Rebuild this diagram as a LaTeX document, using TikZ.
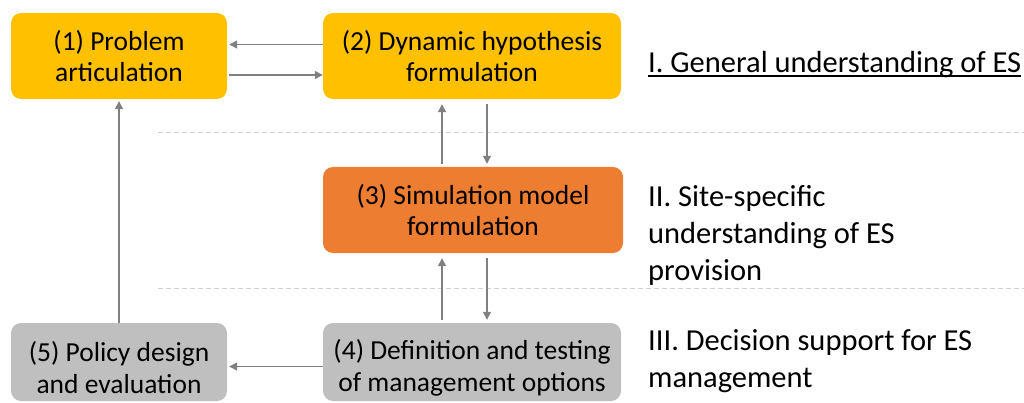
\documentclass[tikz,border=0pt]{standalone}
\usepackage{fontspec}
\setmainfont{Carlito}
\usetikzlibrary{arrows.meta}
\definecolor{boxyellow}{HTML}{FFC000}
\definecolor{boxorange}{HTML}{ED7D31}
\definecolor{boxgray}{HTML}{BFBFBF}
\definecolor{arrowgray}{HTML}{808080}
\definecolor{dashgray}{HTML}{D0D0D0}
\begin{document}
\begin{tikzpicture}[x=1pt,y=-1pt,
  box/.style={rounded corners=10pt, align=center, inner sep=0pt,
    font=\fontsize{27.5}{31}\selectfont, text=black},
  topbox/.style={box, fill=boxyellow, minimum height=86pt},
  midbox/.style={box, fill=boxorange, minimum height=86pt},
  lowbox/.style={box, fill=boxgray, minimum height=78pt, font=\fontsize{27.5}{32}\selectfont},
  arr/.style={draw=arrowgray, line width=1.3pt, -{Triangle[length=8pt,width=8pt]}},
  sep/.style={draw=dashgray, line width=1pt, dash pattern=on 5pt off 3pt},
  lbl/.style={font=\fontsize{30.5}{37}\selectfont, align=left, inner sep=0pt, text=black}
]
\useasboundingbox (0,0) rectangle (1024,403);

% level separators
\coordinate (s1a) at (158,133);
\coordinate (s1b) at (1024,133);
\coordinate (s2a) at (158,288);
\coordinate (s2b) at (1024,288);
\draw[sep] (s1a) -- (s1b);
\draw[sep] (s2a) -- (s2b);

% boxes
\node[topbox, minimum width=216pt] (b1) at (119,56) {(1) Problem\\articulation};
\node[topbox, minimum width=298pt] (b2) at (472,56) {(2) Dynamic hypothesis\\formulation};
\node[midbox, minimum width=300pt] (b3) at (473,210) {(3) Simulation model\\formulation};
\node[lowbox, minimum width=298pt] (b4) at (472,362) {\rule{0pt}{31pt}(4) Definition and testing\\of management options};
\node[lowbox, minimum width=216pt] (b5) at (119,362) {\rule{0pt}{31pt}(5) Policy design\\and evaluation};

% connectors
\draw[arr] ([yshift=11.5pt]b2.west) -- ([yshift=11.5pt,xshift=2pt]b1.east);
\draw[arr] ([yshift=-19pt,xshift=2pt]b1.east) -- ([yshift=-19pt]b2.west);

\draw[arr, shorten <=3pt, shorten >=5pt] ([xshift=-31pt]b3.north) -- ([xshift=-31pt]b3.north |- b2.south);
\draw[arr, shorten <=5pt, shorten >=3pt] ([xshift=14pt]b3.north |- b2.south) -- ([xshift=14pt]b3.north);

\draw[arr, shorten <=3pt, shorten >=5pt] ([xshift=-31pt]b3.north |- b4.north) -- ([xshift=-31pt]b3.south);
\draw[arr, shorten <=5pt, shorten >=3pt] ([xshift=14pt]b3.south) -- ([xshift=14pt]b3.south |- b4.north);

\draw[arr] ([yshift=-4.5pt]b4.west) -- ([yshift=-4.5pt,xshift=2pt]b5.east);
\draw[arr, shorten >=2pt] (b5.north) -- (b1.south);

% level labels
\node[lbl, anchor=base west] (t1) at (648,73) {I. General understanding of ES};
\draw[black, line width=1.3pt] ([yshift=-3pt]t1.base west) -- ([yshift=-3pt]t1.base east);
\node[lbl, anchor=north west] (t2) at (648,185) {II. Site-specific\\understanding of ES\\provision};
\node[lbl, anchor=north west] (t3) at (648,329) {III. Decision support for ES\\management};
\end{tikzpicture}
\end{document}
